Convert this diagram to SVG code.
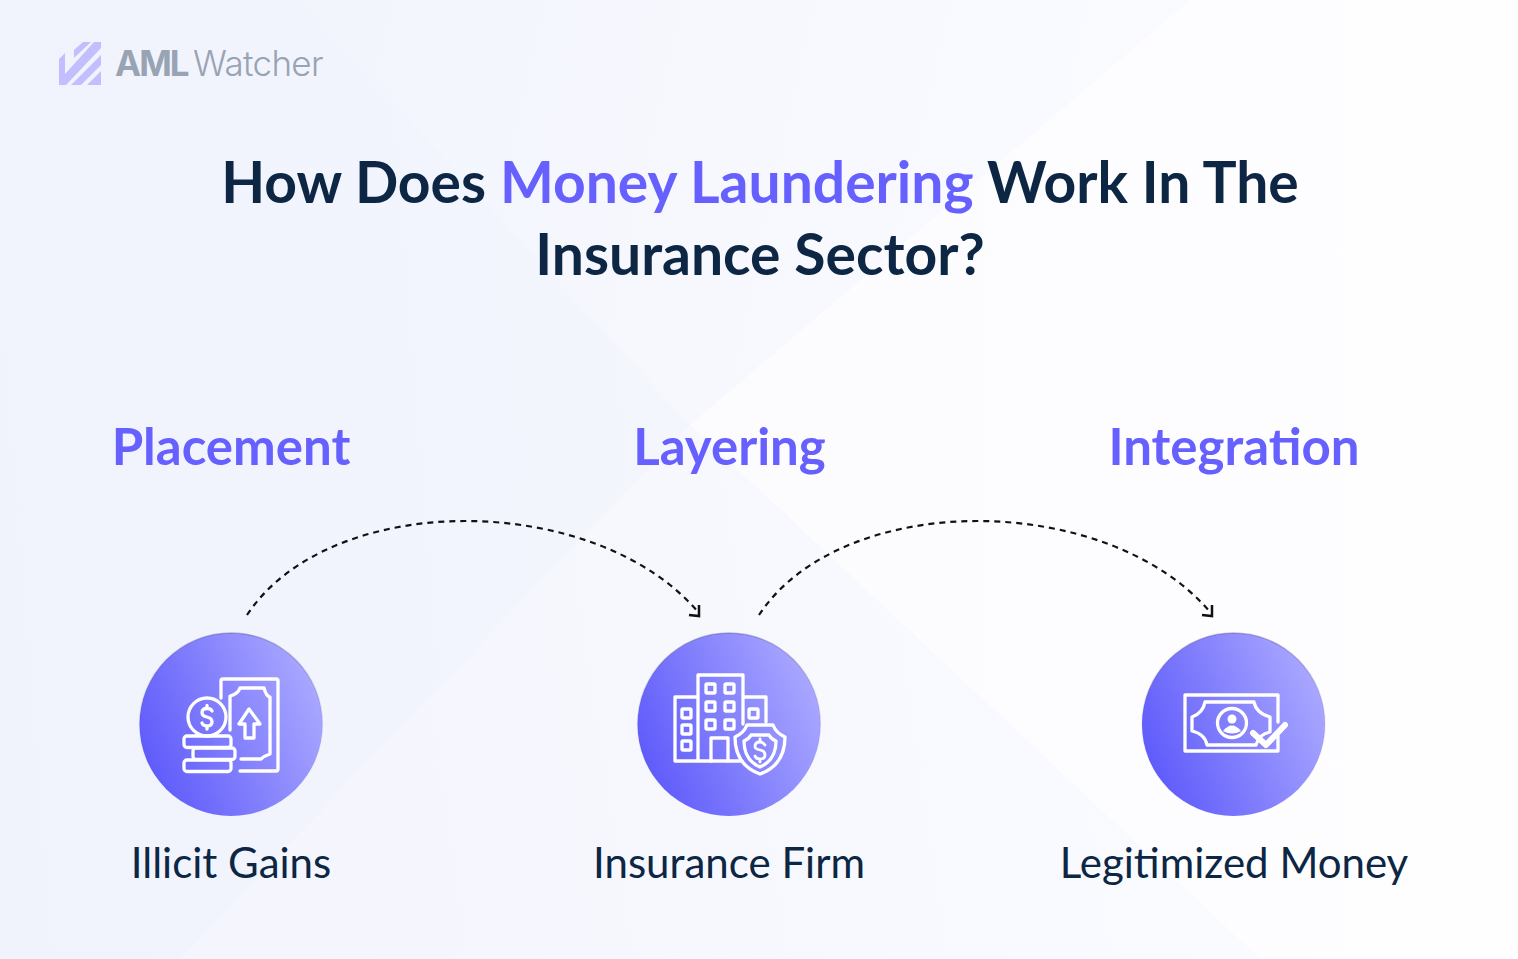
<svg xmlns="http://www.w3.org/2000/svg" width="1518" height="959" viewBox="0 0 1518 959">
<style>
.t{font-family:Lato,"Liberation Sans",sans-serif}
.h{font-size:57px;font-weight:700;fill:#0c2644;text-anchor:middle}
.s{font-size:51px;font-weight:700;fill:#6660ff;text-anchor:middle}
.l{font-size:42px;font-weight:400;fill:#0c2644;text-anchor:middle}
.i{fill:none;stroke:#fff;stroke-width:3.300;stroke-linejoin:round;stroke-linecap:round}
.c{fill:url(#cg);stroke:url(#ring);stroke-width:1.500}
.d{fill:none;stroke:#111;stroke-width:2.200;stroke-dasharray:6 5}
.a{fill:none;stroke:#111;stroke-width:2.500}
.lg{font-family:Inter,"Liberation Sans",sans-serif;font-size:35px;fill:#98a3b3}
</style>
<defs>
<linearGradient id="left" gradientUnits="userSpaceOnUse" x1="0" y1="480" x2="690" y2="425"><stop offset="0" stop-color="#f0f3fc"/><stop offset="1" stop-color="#f4f6fe"/></linearGradient>
<linearGradient id="top" gradientUnits="userSpaceOnUse" x1="300" y1="0" x2="1190" y2="200"><stop offset="0" stop-color="#f3f5fd"/><stop offset="1" stop-color="#fafbff"/></linearGradient>
<linearGradient id="right" gradientUnits="userSpaceOnUse" x1="700" y1="450" x2="1518" y2="450"><stop offset="0" stop-color="#fcfcff"/><stop offset="1" stop-color="#fefeff"/></linearGradient>
<linearGradient id="bottom" gradientUnits="userSpaceOnUse" x1="180" y1="959" x2="1260" y2="800"><stop offset="0" stop-color="#f4f5fd"/><stop offset="1" stop-color="#fafbff"/></linearGradient>
<linearGradient id="cg" x1="0" y1="0.85" x2="1" y2="0.42"><stop offset="0.08" stop-color="#5f5bfb"/><stop offset="1" stop-color="#a8a6ff"/></linearGradient>
<linearGradient id="ring" x1="0" y1="0" x2="0" y2="1"><stop offset="0" stop-color="#3b3a90" stop-opacity=".35"/><stop offset=".5" stop-color="#3b3a90" stop-opacity=".08"/><stop offset="1" stop-color="#3b3a90" stop-opacity="0"/></linearGradient>
</defs>
<g id="background">
<rect width="1518" height="959" fill="#f6f7fe"/>
<polygon points="0,0 300,0 690,425 180,959 0,959" fill="url(#left)"/>
<polygon points="300,0 1190,0 690,425" fill="url(#top)"/>
<polygon points="1190,0 1518,0 1518,959 1260,959 690,425" fill="url(#right)"/>
<polygon points="690,425 1260,959 180,959" fill="url(#bottom)"/>
</g>
<g id="logo">
<g fill="#c3bfff">
<polygon points="74,50 83,42 91,42 74,58"/>
<polygon points="59,59 65,53 65,74 94,42 101,42 101,48 66,85 59,85"/>
<polygon points="71,85 101,55 101,65 81,85"/>
<polygon points="87,85 101,71 101,85"/>
</g>
<text x="115" y="75.500" class="lg" font-weight="700" letter-spacing="-2">AML</text>
<text x="193" y="75.500" class="lg" font-weight="300" letter-spacing="-.65">Watcher</text>
</g>
<g id="title">
<text x="760" y="202.500" class="t h">How Does <tspan fill="#6660ff">Money Laundering</tspan> Work In The</text>
<text x="760" y="274.500" class="t h">Insurance Sector?</text>
</g>
<g id="connectors">
<path class="d" d="M247 615C290 550 380 521 465 521C560 521 650 555 698 612"/>
<path class="a" d="M699 605L699 616L689 615"/>
<path class="d" d="M759 615C802 550 892 521 977 521C1072 521 1162 555 1210 612"/>
<path class="a" d="M1212 605L1212 616L1202 615"/>
</g>
<g id="node-placement">
<text x="231" y="465" class="t s">Placement</text>
<circle class="c" cx="231" cy="724.500" r="91.500"/>
<g class="i">
<path d="M221 698V681Q221 679 223 679H276Q278 679 278 681V769Q278 771 276 771H240"/>
<path d="M230 730V696Q238 694 240 688H264Q266 696 270 697V754Q264 756 261 759H241"/>
<path d="M249 709L239 724H245V738H254V724H260Z"/>
<circle cx="207" cy="717" r="19"/>
<path d="M212 711Q211 708.500 207 708.500Q202 708.500 202 712.500Q202 716 207 717Q212 718 212 722Q212 726 207 726Q203 726 202 723M207 705.500V708M207 726V729"/>
<rect x="184" y="736" width="47" height="11.500" rx="3"/>
<rect x="193" y="748" width="42" height="11.500" rx="3"/>
<rect x="184" y="760" width="47" height="11.500" rx="3"/>
</g>
<text x="231" y="877.500" class="t l">Illicit Gains</text>
</g>
<g id="node-layering">
<text x="729.500" y="465" class="t s">Layering</text>
<circle class="c" cx="729" cy="724.500" r="91.500"/>
<g class="i">
<path d="M698 761V675H743V724M698 697H675V761H742M743 697H766V722"/>
<rect x="706" y="684" width="9" height="9" rx="1"/><rect x="725" y="684" width="9" height="9" rx="1"/>
<rect x="706" y="702" width="9" height="9" rx="1"/><rect x="725" y="702" width="9" height="9" rx="1"/>
<rect x="706" y="720" width="9" height="9" rx="1"/><rect x="725" y="720" width="9" height="9" rx="1"/>
<rect x="682" y="709" width="9" height="9" rx="1"/><rect x="682" y="725" width="9" height="9" rx="1"/>
<rect x="682" y="741" width="9" height="9" rx="1"/><rect x="749" y="709" width="9" height="9" rx="1"/>
<path d="M711 761V738H728V761"/>
<path d="M747 725H773Q776 733 785 737Q785 765 760 774Q735 765 735 737Q744 733 747 725Z"/>
<path d="M751 735H769Q771 739 776 741Q776 760 760 767Q744 760 744 741Q749 739 751 735Z"/>
<path d="M765 745Q763 742 760 742Q755 742 755 746.500Q755 749 760 750Q765 751 765 755Q765 759 760 759Q756 759 755 756M760 739V742M760 759V762" stroke-width="2.800"/>
</g>
<text x="729" y="877.500" class="t l">Insurance Firm</text>
</g>
<g id="node-integration">
<text x="1234" y="465" class="t s">Integration</text>
<circle class="c" cx="1233.500" cy="724.500" r="91.500"/>
<g class="i" stroke-linecap="butt" stroke-linejoin="miter">
<path d="M1278 722V695H1185V751H1278V736"/>
<path d="M1205 702H1254Q1256 713 1270 717V732Q1259 734 1256 745H1207Q1205 734 1192 731V717Q1203 713 1205 702Z"/>
<circle cx="1232" cy="723" r="14.500"/>
<circle cx="1232" cy="719" r="4.500" fill="#fff" stroke="none"/>
<path d="M1223 731Q1232 720 1241 731Q1232 736 1223 731Z" fill="#fff" stroke="none"/>
<path d="M1253 733L1266 745L1285 725" stroke-width="6"/>
</g>
<text x="1234" y="877.500" class="t l">Legitimized Money</text>
</g>
</svg>
